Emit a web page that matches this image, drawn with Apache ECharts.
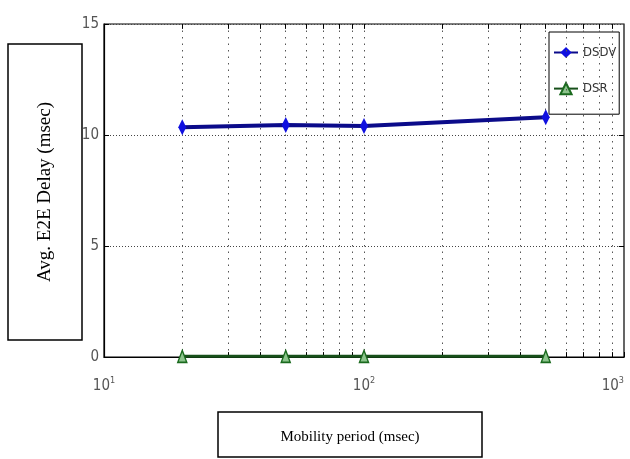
<!DOCTYPE html>
<html>
<head>
<meta charset="utf-8">
<script src="https://cdn.jsdelivr.net/npm/echarts@6/dist/echarts.min.js"></script>
<style>html,body{margin:0;padding:0;background:#fff}#c{width:630px;height:459px}</style>
</head>
<body>
<div id="c"></div>
<script>
const mobilityPeriod = [20, 50, 100, 500];
const dsdvDelay = [10.35, 10.45, 10.4, 10.8];
const dsrDelay = [0.03, 0.03, 0.03, 0.03];
const gridXValues = [20, 30, 40, 50, 60, 70, 80, 90, 100, 200, 300, 400, 500, 600, 700, 800, 900];
const yTicks = [0, 5, 10, 15];
const xTickExponents = {10: '1', 100: '2', 1000: '3'};

const chart = echarts.init(document.getElementById('c'), null, {renderer: 'canvas'});
const narrow = '"DejaVu Sans Condensed", "Liberation Sans", sans-serif';

// tick mark segments (inside ticks on bottom, top and right frame), expressed in data coordinates
const tickLenY = 0.22;
const tickSegs = [];
gridXValues.forEach(v => {
  tickSegs.push([{coord: [v, 0]}, {coord: [v, tickLenY]}]);
  tickSegs.push([{coord: [v, 15]}, {coord: [v, 15 - tickLenY]}]);
});
[5, 10].forEach(y => {
  tickSegs.push([{coord: [1000, y]}, {coord: [955, y]}]);
});

chart.setOption({
  animation: false,
  backgroundColor: '#fff',
  grid: {left: 104, top: 24, right: 6, bottom: 102, outerBoundsMode: 'none', containLabel: false, show: true, borderColor: '#000', borderWidth: 1.2, backgroundColor: 'transparent'},
  xAxis: {
    type: 'log', logBase: 10, min: 10, max: 1000,
    axisLine: {lineStyle: {color: '#000', width: 1.2}},
    axisTick: {inside: true, length: 5, lineStyle: {color: '#000'}},
    splitLine: {show: false},
    axisLabel: {
      margin: 19,
      alignMaxLabel: 'right',
      formatter: v => '{b|10}{s|' + (xTickExponents[Math.round(v)] || '') + '}',
      rich: {
        b: {fontFamily: narrow, fontSize: 15, color: '#555'},
        s: {fontFamily: narrow, fontSize: 9, color: '#555', padding: [0, 0, 12, 0]}
      }
    }
  },
  yAxis: {
    type: 'value', min: 0, max: 15, interval: 5,
    axisLine: {show: true, lineStyle: {color: '#000', width: 1.2}},
    axisTick: {show: true, inside: true, length: 5, lineStyle: {color: '#000'}},
    splitLine: {show: true, lineStyle: {type: [1, 2], color: '#444', width: 1}},
    axisLabel: {margin: 5, fontFamily: narrow, fontSize: 15, color: '#555'}
  },
  legend: {
    left: 549, top: 32, orient: 'vertical',
    padding: [14, 3, 19, 4], itemGap: 23, itemWidth: 24, itemHeight: 14,
    borderColor: '#000', borderWidth: 1, backgroundColor: '#fff',
    textStyle: {fontFamily: narrow, fontSize: 13, color: '#333'},
    data: ['DSDV', 'DSR']
  },
  series: [
    {
      name: 'DSDV', type: 'line',
      data: mobilityPeriod.map((x, i) => [x, dsdvDelay[i]]),
      symbol: 'diamond', symbolSize: [8, 16],
      lineStyle: {color: '#0b0b8a', width: 4},
      itemStyle: {color: '#1010e0'},
      z: 5,
      markLine: {
        silent: true, symbol: 'none', label: {show: false},
        lineStyle: {type: [1.5, 5], color: '#555', width: 1},
        data: gridXValues.map(v => ({xAxis: v}))
      }
    },
    {
      name: 'DSR', type: 'line',
      data: mobilityPeriod.map((x, i) => [x, dsrDelay[i]]),
      symbol: 'triangle', symbolSize: [9, 12],
      lineStyle: {color: '#17501a', width: 3},
      itemStyle: {color: '#8cc48c', borderColor: '#1a6a1e', borderWidth: 1.5},
      z: 5,
      markLine: {
        silent: true, symbol: 'none', label: {show: false},
        lineStyle: {type: 'solid', color: '#000', width: 1},
        data: tickSegs
      }
    }
  ],
  graphic: [
    {type: 'rect', shape: {x: 8, y: 44, width: 74, height: 296}, style: {fill: '#fff', stroke: '#000', lineWidth: 1.5}, z: 10},
    {type: 'text', x: 45, y: 192, rotation: Math.PI / 2, style: {text: 'Avg. E2E Delay (msec)', font: '19px "Liberation Serif"', fill: '#000', align: 'center', verticalAlign: 'middle'}, z: 11},
    {type: 'rect', shape: {x: 218, y: 412, width: 264, height: 45}, style: {fill: '#fff', stroke: '#000', lineWidth: 1.5}, z: 10},
    {type: 'text', x: 350, y: 437, style: {text: 'Mobility period (msec)', font: '15px "Liberation Serif"', fill: '#000', align: 'center', verticalAlign: 'middle'}, z: 11}
  ]
});
</script>
</body>
</html>
